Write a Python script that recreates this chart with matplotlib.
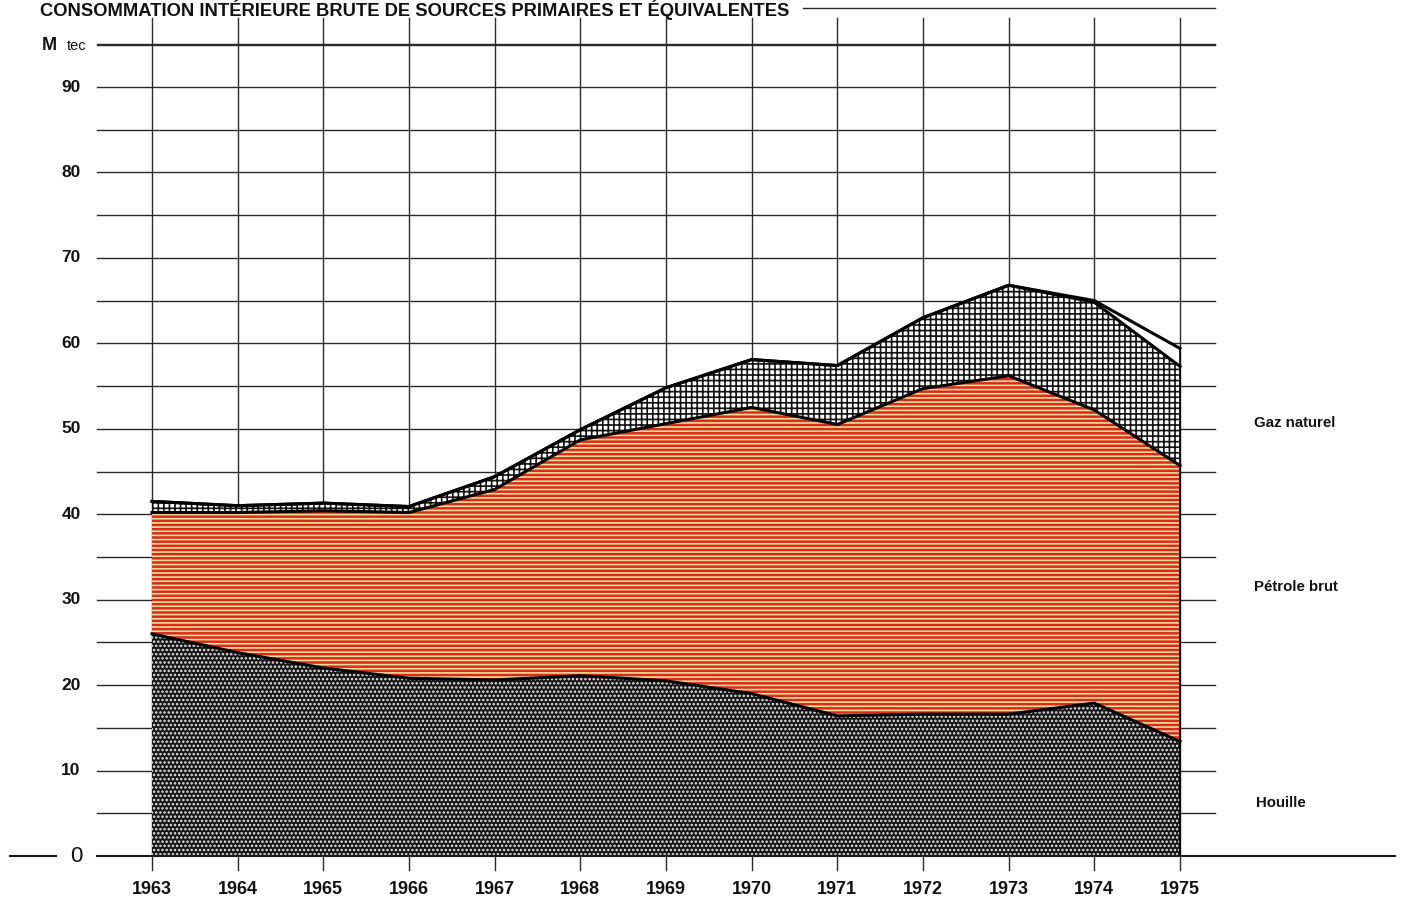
import matplotlib
matplotlib.use("Agg")
import matplotlib.pyplot as plt
import numpy as np

# ---------------- data (M tec) ----------------
years = [1963, 1964, 1965, 1966, 1967, 1968, 1969, 1970, 1971, 1972, 1973, 1974, 1975]
houille = [26.0, 23.8, 22.0, 20.8, 20.6, 21.1, 20.5, 19.0, 16.4, 16.6, 16.6, 17.9, 13.4]
petrole = [14.2, 16.4, 18.4, 19.4, 22.3, 27.6, 30.1, 33.5, 34.1, 38.1, 39.6, 34.3, 32.3]
gaz = [1.3, 0.8, 0.9, 0.7, 1.5, 1.2, 4.2, 5.6, 6.9, 8.3, 10.6, 12.6, 11.6]
autres = [0, 0, 0, 0, 0, 0, 0, 0, 0, 0, 0, 0.2, 2.1]
yticks = [0, 10, 20, 30, 40, 50, 60, 70, 80, 90]
labels_series = ["Houille", "Pétrole brut", "Gaz naturel"]
title = "CONSOMMATION INTÉRIEURE BRUTE DE SOURCES PRIMAIRES ET ÉQUIVALENTES"

plt.rcParams['hatch.linewidth'] = 1.2

W, H = 1402, 899
fig = plt.figure(figsize=(W / 100, H / 100), dpi=100)
ax = fig.add_axes([0, 0, 1, 1])
ax.set_axis_off()

# map data coordinates to page layout
px_year = (1180 - 152) / 12.0
px_unit = (856 - 87) / 90.0
x0 = 1963 - 152 / px_year
y0 = -(H - 856) / px_unit
ax.set_xlim(x0, x0 + W / px_year)
ax.set_ylim(y0, y0 + H / px_unit)


def px2x(p):
    return x0 + p / px_year


def py2y(p):
    return y0 + (H - p) / px_unit


x = np.array(years, dtype=float)
c1 = np.array(houille)
c2 = c1 + np.array(petrole)
c3 = c2 + np.array(gaz)
c4 = c3 + np.array(autres)

grid_col = "#2a2a2a"
# horizontal grid lines every 5
for v in range(5, 100, 5):
    ax.plot([px2x(97), px2x(1215)], [v, v], color=grid_col, lw=1.0, zorder=1)
# vertical grid lines at each year
for yr in years:
    ax.plot([yr, yr], [py2y(870), py2y(18)], color=grid_col, lw=1.0, zorder=1)
# baseline
ax.plot([px2x(97), px2x(1395)], [0, 0], color="#1a1a1a", lw=1.5, zorder=6)
ax.plot([px2x(10), px2x(56)], [0, 0], color="#1a1a1a", lw=1.5, zorder=6)
# title line
ax.plot([px2x(803), px2x(1215)], [py2y(8), py2y(8)], color=grid_col, lw=1.0, zorder=1)

# areas
ax.fill_between(x, 0, c1, facecolor="#161616", edgecolor="#e6e6e6", hatch="....",
                linewidth=0, zorder=3)
ax.fill_between(x, c1, c2, facecolor="#d62d1a", edgecolor="#f6dc98", hatch="----",
                linewidth=0, zorder=3)
ax.fill_between(x, c2, c3, facecolor="white", edgecolor="#111111", hatch="+++",
                linewidth=0, zorder=3)
ax.fill_between(x, c3, c4, facecolor="white", linewidth=0, zorder=3)

# outlines
for c in (c1, c2, c3, c4):
    ax.plot(x, c, color="black", lw=2.2, zorder=5, solid_joinstyle="round")
ax.plot([years[-1], years[-1]], [0, c4[-1]], color="black", lw=1.2, zorder=5)

# y tick labels
for v in yticks[1:]:
    ax.text(px2x(71), v, str(v), ha="center", va="center", fontsize=12.5,
            fontweight="bold", color="#111111", family="Liberation Sans", zorder=7)
ax.text(px2x(76), 0, "0", ha="center", va="center", fontsize=16,
        color="#111111", family="Liberation Sans", zorder=7)
ax.text(px2x(42), py2y(45), "M", ha="left", va="center", fontsize=13,
        fontweight="bold", color="#111111", family="Liberation Sans")
ax.text(px2x(67), py2y(46), "tec", ha="left", va="center", fontsize=10.5,
        color="#111111", family="Liberation Sans")
ax.plot([px2x(97), px2x(1215)], [py2y(45), py2y(45)], color=grid_col, lw=1.0, zorder=1)

# x tick labels
for yr in years:
    ax.text(yr, py2y(890), str(yr), ha="center", va="center", fontsize=13,
            fontweight="bold", color="#111111",
            family=["Liberation Sans Narrow", "Liberation Sans"], zorder=7)

# series labels on the right
ax.text(px2x(1254), py2y(423), labels_series[2], ha="left", va="center", fontsize=10.8,
        fontweight="bold", color="#111111", family="Liberation Sans")
ax.text(px2x(1254), py2y(587), labels_series[1], ha="left", va="center", fontsize=10.8,
        fontweight="bold", color="#111111", family="Liberation Sans")
ax.text(px2x(1256), py2y(803), labels_series[0], ha="left", va="center", fontsize=10.8,
        fontweight="bold", color="#111111", family="Liberation Sans")

# title
ax.text(px2x(40), py2y(10), title, ha="left", va="center", fontsize=13.2,
        fontweight="bold", color="#111111", family="Liberation Sans")

fig.savefig("out.png", dpi=100, facecolor="white")
